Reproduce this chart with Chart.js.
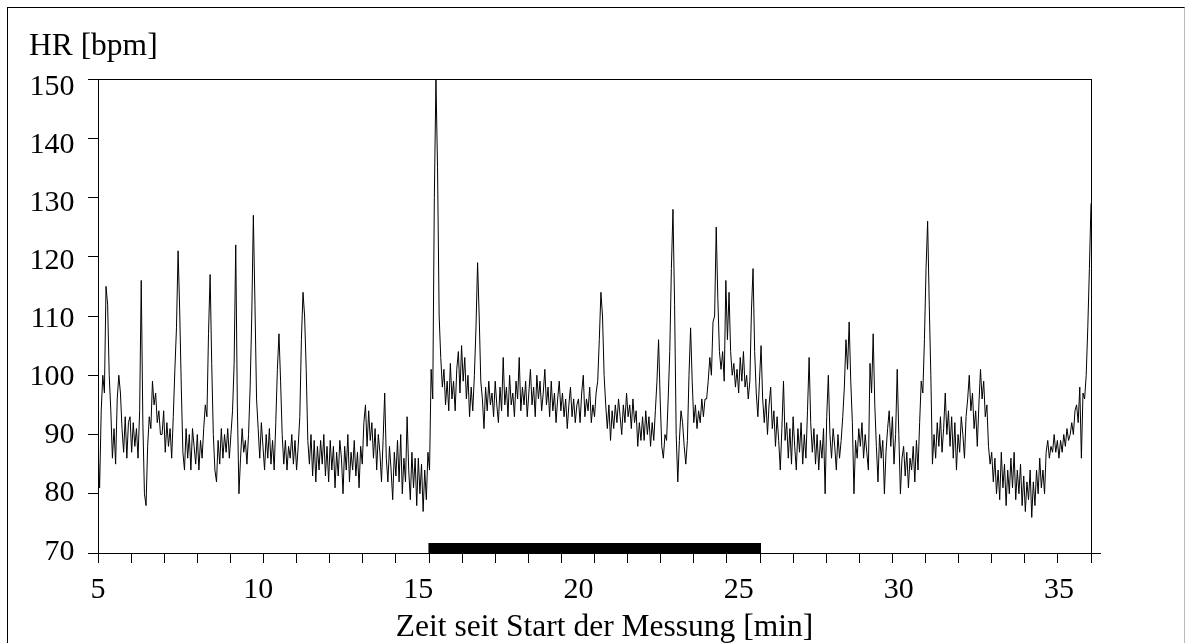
<!DOCTYPE html>
<html><head><meta charset="utf-8">
<script src="https://cdn.jsdelivr.net/npm/chart.js@4.4.1/dist/chart.umd.min.js"></script>
<style>
html,body{margin:0;padding:0;background:#fff;overflow:hidden}
#frame{position:absolute;left:7px;top:7px;width:1176px;height:700px;border-top:1px solid #000;border-left:1px solid #000;border-right:1px solid #bbb}
#wrap{position:absolute;left:0;top:0;width:1186px;height:643px}
</style></head><body>
<div id="frame"></div>
<div id="wrap"><canvas id="c"></canvas></div>
<script>
// ---- texts ----
const yTitle = 'HR [bpm]';
const xTitle = 'Zeit seit Start der Messung [min]';
// ---- axes ----
const xMin = 5, xMax = 36, xLabelStep = 5, xMinorCount = 30;
const yMin = 70, yMax = 150, yStep = 10;
// the printed tick labels of the y axis sit on a slightly compressed scale
const yLabelMin = 69.78, yLabelMax = 151.36;
// ---- samples: one value every 0.05 min (3 s), starting at 5 min ----
const sampleStart = 5, sampleStep = 0.05;
const hr = [
  88,81,94,100,97,115,112,100,94,86,91,85,96,100,97,91,87,93,86,92,   // 5
  93,87,92,88,91,86,94,116,92,80,78,88,93,91,99,95,97,92,94,90,       // 6
  90,94,87,92,88,91,86,93,101,108,121,111,98,87,84,91,86,90,84,91,    // 7
  88,85,90,84,89,86,91,95,93,107,117,102,90,84,82,89,85,91,86,90,     // 8
  87,91,86,90,94,102,122,95,80,86,91,87,89,85,90,98,110,127,112,96,   // 9
  91,86,92,88,84,90,86,91,85,89,84,92,101,107,99,90,85,89,84,88,      // 10
  86,90,85,89,84,88,93,106,114,110,101,89,85,90,83,89,82,88,84,89,    // 11
  85,90,83,88,82,89,84,88,81,87,83,89,86,80,88,84,90,82,87,84,        // 12
  89,83,87,81,88,85,92,95,88,94,89,92,86,91,84,90,87,82,89,97,        // 13
  86,82,88,84,79,87,83,89,82,90,80,86,82,93,84,79,87,81,86,78,        // 14
  86,80,85,77,84,79,87,84,101,96,130,150,135,110,103,98,101,95,99,94, // 15
  102,96,99,94,101,104,97,105,99,103,96,100,93,98,94,100,108,119,110,99, // 16
  96,91,98,94,99,95,97,93,99,95,92,98,94,103,95,98,93,100,95,97,      // 17
  93,99,96,103,94,98,95,99,93,97,101,95,98,93,100,96,99,94,97,101,    // 18
  95,98,93,99,94,97,92,96,99,94,97,93,96,91,95,98,93,96,92,95,        // 19
  96,92,97,100,93,96,94,98,92,95,93,97,99,106,114,110,100,95,91,95,   // 20
  89,94,91,95,92,96,93,90,95,92,97,93,95,91,96,92,94,88,92,89,        // 21
  93,89,94,90,93,88,92,89,94,99,106,96,88,86,90,89,96,104,118,128,    // 22
  112,90,82,89,94,92,88,85,89,100,108,99,92,95,91,94,92,96,93,96,     // 23
  96,99,103,100,109,110,125,113,104,101,104,99,116,106,114,104,100,102,98,101, // 24
  97,103,99,104,98,100,96,99,111,118,104,97,93,99,105,96,92,96,90,95, // 25
  98,91,94,88,93,89,84,91,99,89,92,86,91,85,93,88,84,91,87,92,        // 26
  85,90,86,94,103,92,87,91,85,90,84,89,86,91,80,93,100,90,86,91,      // 27
  88,84,90,86,89,93,98,106,101,109,99,92,80,89,86,91,88,92,86,90,     // 28
  87,84,102,97,107,95,88,82,90,86,89,80,87,91,94,88,93,85,90,101,     // 29
  90,80,86,88,83,87,81,86,84,88,82,89,84,92,99,97,106,118,126,112,    // 30
  100,85,90,86,92,88,93,87,91,97,90,94,88,93,86,92,84,90,87,93,       // 31
  90,86,93,96,100,94,97,91,94,88,95,101,96,99,93,95,88,85,87,82,      // 32
  86,80,84,79,87,81,85,78,84,80,86,81,87,79,84,80,85,78,83,77,        // 33
  82,79,84,76,82,78,84,80,86,81,84,80,87,89,86,88,87,90,87,89,        // 34
  86,89,87,90,88,91,89,90,92,90,94,95,92,98,86,97,96,100,108,118,     // 35
  129                                                                 // 36
];
// ---- measurement period marker (black bar on the time axis) ----
const markerStart = 15.31, markerEnd = 25.7, markerTop = 71.7;

const FONT = '"Liberation Serif","Times New Roman",Times,serif';
Chart.defaults.font.family = FONT;
Chart.defaults.color = '#000';

const stepTicks = (lo, hi, step) => {
  const out = [];
  for (let v = lo; v <= hi + 1e-9; v += step) out.push({ value: v });
  return out;
};

new Chart(document.getElementById('c'), {
  type: 'line',
  data: {
    datasets: [
      {
        data: hr.map((v, i) => ({ x: sampleStart + i * sampleStep, y: v })),
        borderColor: '#000', borderWidth: 1, pointRadius: 0, tension: 0, fill: false,
        xAxisID: 'x', yAxisID: 'y'
      },
      {
        data: [{ x: markerStart, y: markerTop }, { x: markerEnd, y: markerTop }],
        borderColor: 'rgba(0,0,0,0)', borderWidth: 0, backgroundColor: '#000',
        pointRadius: 0, fill: 'start', xAxisID: 'x', yAxisID: 'y'
      }
    ]
  },
  options: {
    responsive: true, maintainAspectRatio: false, animation: false, events: [],
    layout: { padding: { left: 29, right: 6, top: 0, bottom: 0 } },
    plugins: {
      legend: { display: false }, tooltip: { enabled: false },
      title: {
        display: true, text: yTitle, align: 'start', color: '#000',
        font: { size: 31.5, lineHeight: 1, weight: 'normal' },
        padding: { top: 31, bottom: 16.5 }
      },
      subtitle: {
        display: true, text: xTitle, position: 'bottom', align: 'center', color: '#000',
        font: { size: 31.5, lineHeight: 1, weight: 'normal' },
        padding: 0
      }
    },
    scales: {
      x: {
        type: 'linear', position: 'bottom', min: xMin, max: xMax, weight: 0,
        afterBuildTicks: s => {
          s.ticks = Array.from({ length: xMinorCount + 1 }, (_, k) => ({ value: xMin + k * (xMax - xMin) / xMinorCount }));
        },
        ticks: { display: false },
        grid: { drawOnChartArea: false, drawTicks: true, tickLength: 10, color: '#000', lineWidth: 1 },
        border: { display: true, color: '#000', width: 1 },
        afterFit: s => { s.height = 10; }
      },
      xl: {
        type: 'linear', position: 'bottom', min: xMin, max: xMax, weight: 1,
        afterBuildTicks: s => { s.ticks = stepTicks(xMin, xMax, xLabelStep); },
        ticks: { font: { size: 30 }, padding: 9, maxRotation: 0, autoSkip: false, color: '#000' },
        grid: { display: false, drawTicks: false },
        border: { display: false },
        afterFit: s => { s.height = 48.5; }
      },
      y: {
        type: 'linear', position: 'left', min: yMin, max: yMax, weight: 0,
        afterBuildTicks: s => { s.ticks = stepTicks(yMin, yMax, yStep); },
        ticks: { display: false },
        grid: {
          drawTicks: true, tickLength: 10, lineWidth: 1, tickColor: '#000',
          color: c => (c.tick && c.tick.value === yMax) ? '#000' : 'rgba(0,0,0,0)'
        },
        border: { display: true, color: '#000', width: 1 },
        afterFit: s => { s.width = 10; }
      },
      yl: {
        type: 'linear', position: 'left', min: yLabelMin, max: yLabelMax, weight: 1,
        afterBuildTicks: s => { s.ticks = stepTicks(yMin, yMax, yStep); },
        ticks: { font: { size: 30 }, padding: 13.5, color: '#000', autoSkip: false },
        grid: { display: false, drawTicks: false },
        border: { display: false },
        afterFit: s => { s.width = 59; }
      },
      yr: {
        type: 'linear', position: 'right', min: yMin, max: yMax,
        afterBuildTicks: s => { s.ticks = [{ value: yMin }]; },
        ticks: { display: false },
        grid: { drawOnChartArea: false, drawTicks: true, tickLength: 10, color: '#000' },
        border: { display: true, color: '#000', width: 1 },
        afterFit: s => { s.width = 89; }
      }
    }
  }
});
</script>
</body></html>
